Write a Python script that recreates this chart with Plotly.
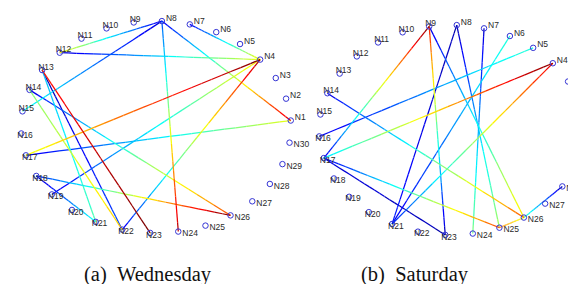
import numpy as np
import plotly.graph_objects as go

# ---------------- data ----------------
node_labels = [f"N{i}" for i in range(1, 31)]

# Wednesday edges: from-node, to-node, jet colour value at from-end, at to-end
wed_from = [12, 12, 8, 7, 8, 8, 17, 17, 19, 18, 18, 14, 13, 13, 14, 22, 13]
wed_to = [4, 8, 15, 4, 1, 24, 4, 1, 4, 21, 26, 26, 22, 23, 22, 4, 21]
wed_c_from = [0.08, 0.62, 0.08, 0.12, 0.10, 0.20, 0.60, 0.10, 0.10, 0.05, 0.15, 0.10, 0.05, 0.85, 0.50, 0.12, 0.30]
wed_c_to = [0.60, 0.10, 0.40, 0.62, 0.92, 0.95, 1.00, 0.60, 0.65, 0.40, 1.00, 0.80, 0.20, 1.00, 0.68, 0.95, 0.45]

# Saturday edges
sat_from = [9, 16, 14, 8, 7, 6, 4, 4, 9, 9, 8, 17, 17, 28, 26]
sat_to = [17, 5, 26, 25, 24, 21, 17, 21, 23, 26, 21, 23, 25, 26, 25]
sat_c_from = [1.00, 0.10, 0.10, 0.05, 0.08, 0.42, 1.00, 0.90, 0.85, 0.10, 0.05, 0.10, 0.10, 0.05, 0.60]
sat_c_to = [0.10, 0.42, 0.78, 0.55, 0.50, 0.10, 0.35, 0.15, 0.05, 0.65, 0.15, 0.05, 0.80, 0.45, 0.75]

captions = ["(a)\u00a0\u00a0Wednesday", "(b)\u00a0\u00a0Saturday"]

# ---------------- styling / layout helpers ----------------
ANGLE_OFFSET = 3.5  # degrees, ring layout rotation
n_nodes = len(node_labels)
theta = np.deg2rad(ANGLE_OFFSET + 360.0 * np.arange(n_nodes) / n_nodes)
ux, uy = np.cos(theta), np.sin(theta)


def jet(v):
    v = float(np.clip(v, 0, 1))
    r = np.clip(1.5 - abs(4 * v - 3), 0, 1)
    g = np.clip(1.5 - abs(4 * v - 2), 0, 1)
    b = np.clip(1.5 - abs(4 * v - 1), 0, 1)
    return f"rgb({int(r*255)},{int(g*255)},{int(b*255)})"


NB = 48      # colour bins
NSEG = 24    # sub-segments per edge (for the colour gradient)

fig = go.Figure()


def add_panel(frm, to, c0s, c1s, xa, ya, sx, sy):
    bins = {}
    for a, b, c0, c1 in zip(frm, to, c0s, c1s):
        xa0, ya0 = ux[a - 1], uy[a - 1]
        xb0, yb0 = ux[b - 1], uy[b - 1]
        for i in range(NSEG):
            t0, t1 = i / NSEG, (i + 1) / NSEG
            tm = 0.5 * (t0 + t1)
            c = c0 + (c1 - c0) * tm
            k = int(round(c * (NB - 1)))
            xs, ys = bins.setdefault(k, ([], []))
            xs += [xa0 + (xb0 - xa0) * t0, xa0 + (xb0 - xa0) * t1, None]
            ys += [ya0 + (yb0 - ya0) * t0, ya0 + (yb0 - ya0) * t1, None]
    for k in sorted(bins):
        xs, ys = bins[k]
        fig.add_trace(go.Scatter(x=xs, y=ys, mode="lines", xaxis=xa, yaxis=ya,
                                 line=dict(color=jet(k / (NB - 1)), width=1.25),
                                 hoverinfo="skip", showlegend=False, cliponaxis=False))
    # nodes
    fig.add_trace(go.Scatter(x=ux, y=uy, mode="markers", xaxis=xa, yaxis=ya,
                             marker=dict(symbol="circle-open", size=5.5,
                                         color="#3434d4", line=dict(width=1, color="#3434d4")),
                             showlegend=False, cliponaxis=False, hoverinfo="skip"))
    # labels
    lx = ux + sx * np.where(ux >= 0, 1, -1)
    ly = uy + sy * np.where(uy >= 0, 1, -1)
    fig.add_trace(go.Scatter(x=lx, y=ly, mode="text", text=node_labels, xaxis=xa, yaxis=ya,
                             textposition="middle right",
                             textfont=dict(family="Liberation Sans, Arial", size=8.5, color="#2a2a2a"),
                             showlegend=False, cliponaxis=False, hoverinfo="skip"))


add_panel(wed_from, wed_to, wed_c_from, wed_c_to, "x", "y", 4 / 135, 2.5 / 106)
add_panel(sat_from, sat_to, sat_c_from, sat_c_to, "x2", "y2", 4 / 132, 2.5 / 105)

W, H = 576, 284
# left ring: centre (148,119) px, radii 135 x 106 ; right ring: centre (443,122), radii 132 x 105
ax_common = dict(visible=False, showgrid=False, zeroline=False, fixedrange=True)
fig.update_layout(
    width=W, height=H,
    margin=dict(l=0, r=0, t=0, b=0),
    paper_bgcolor="white", plot_bgcolor="white",
    xaxis=dict(domain=[0, 0.5], range=[(0 - 148) / 135, (288 - 148) / 135], **ax_common),
    yaxis=dict(domain=[0, 1], range=[(119 - 284) / 106, 119 / 106], **ax_common),
    xaxis2=dict(domain=[0.5, 1], range=[(288 - 443) / 132, (576 - 443) / 132], **ax_common),
    yaxis2=dict(domain=[0, 1], anchor="x2", range=[(122 - 284) / 105, 122 / 105], **ax_common),
    showlegend=False,
)

cap_x = [140 / W, 407 / W]
for txt, cx in zip(captions, cap_x):
    fig.add_annotation(text=txt, x=cx, y=1 - 266 / H, xref="paper", yref="paper",
                       xanchor="center", yanchor="middle", showarrow=False,
                       font=dict(family="Liberation Serif, Times New Roman", size=20.5, color="#111"))

fig.write_html("out.html")
